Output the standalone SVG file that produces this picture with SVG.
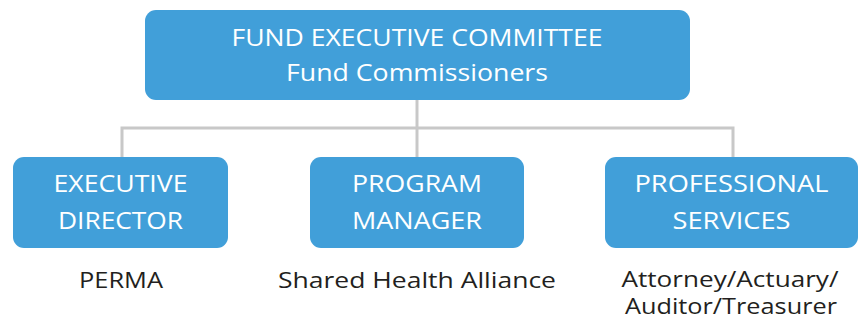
<svg xmlns="http://www.w3.org/2000/svg" width="859" height="320" viewBox="0 0 859 320">
<style>
.box{fill:#419fd9}
.lbl{font-family:"Open Sans","Liberation Sans",sans-serif;font-size:24px;fill:#ffffff;text-anchor:middle}
.sub{font-family:"Open Sans","Liberation Sans",sans-serif;font-size:22px;fill:#231f20;text-anchor:middle}
.conn{stroke:#c8c8c8;stroke-width:3;fill:none}
</style>
<rect width="859" height="320" fill="#ffffff"/>
<g id="connectors">
<path class="conn" d="M417 100 V157"/>
<path class="conn" d="M122 157 V128 H733 V157"/>
</g>
<g id="fund-executive-committee">
<rect class="box" x="145" y="10" width="545" height="90" rx="11"/>
<text class="lbl" x="417" y="46" textLength="371" lengthAdjust="spacingAndGlyphs">FUND EXECUTIVE COMMITTEE</text>
<text class="lbl" x="417" y="81" textLength="262" lengthAdjust="spacingAndGlyphs">Fund Commissioners</text>
</g>
<g id="executive-director">
<rect class="box" x="13" y="157" width="215" height="91" rx="11"/>
<text class="lbl" x="120.5" y="192" textLength="134" lengthAdjust="spacingAndGlyphs">EXECUTIVE</text>
<text class="lbl" x="120.5" y="229" textLength="125" lengthAdjust="spacingAndGlyphs">DIRECTOR</text>
<text class="sub" x="121" y="288" textLength="84" lengthAdjust="spacingAndGlyphs">PERMA</text>
</g>
<g id="program-manager">
<rect class="box" x="310" y="157" width="214" height="91" rx="11"/>
<text class="lbl" x="417" y="192" textLength="130" lengthAdjust="spacingAndGlyphs">PROGRAM</text>
<text class="lbl" x="417" y="229" textLength="130" lengthAdjust="spacingAndGlyphs">MANAGER</text>
<text class="sub" x="417" y="288" textLength="278" lengthAdjust="spacingAndGlyphs">Shared Health Alliance</text>
</g>
<g id="professional-services">
<rect class="box" x="605" y="157" width="253" height="91" rx="11"/>
<text class="lbl" x="731.5" y="192" textLength="194" lengthAdjust="spacingAndGlyphs">PROFESSIONAL</text>
<text class="lbl" x="731.5" y="229" textLength="118" lengthAdjust="spacingAndGlyphs">SERVICES</text>
<text class="sub" x="730" y="287" textLength="217" lengthAdjust="spacingAndGlyphs">Attorney/Actuary/</text>
<text class="sub" x="731" y="314" textLength="212" lengthAdjust="spacingAndGlyphs">Auditor/Treasurer</text>
</g>
</svg>
